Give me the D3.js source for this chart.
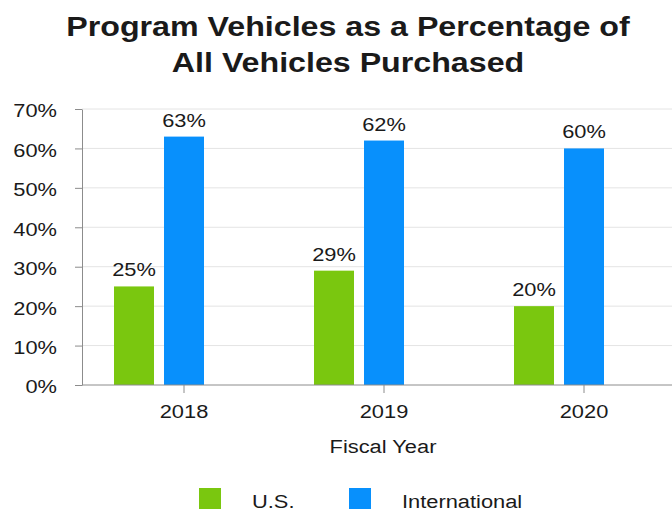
<!DOCTYPE html>
<html>
<head>
<meta charset="utf-8">
<script src="https://cdn.jsdelivr.net/npm/d3@7"></script>
<style>
  body { margin: 0; background: #fff; }
  text { font-family: "Liberation Sans", Arial, sans-serif; fill: #1a1a1a; }
</style>
</head>
<body>
<div id="chart"></div>
<script>
// data
let years = ['2018', '2019', '2020'];
let usValues = [25, 29, 20];
let intlValues = [63, 62, 60];
let seriesNames = ['U.S.', 'International'];
let seriesColors = ['#7ac70f', '#0890fc'];
let yTicks = [0, 10, 20, 30, 40, 50, 60, 70];

// settings
let W = 672, H = 512;
let SX = 1.15;            // the source text is a bit wider than plain Arial
let plotLeft = 82, plotTop = 109, plotBottom = 385;

let svg = d3.select('#chart').append('svg')
    .attr('width', W)
    .attr('height', H);

// text helper, stretched horizontally
function label(parent, x, y, txt, anchor, size, weight) {
    return parent.append('text')
        .attr('transform', `translate(${x},${y}) scale(${SX},1)`)
        .attr('text-anchor', anchor)
        .style('font-size', size + 'px')
        .style('font-weight', weight || 'normal')
        .text(txt);
}

function stretchAxisText(g) {
    g.selectAll('text').each(function() {
        let t = d3.select(this);
        let x = +t.attr('x') || 0;
        t.attr('x', x / SX).attr('transform', `scale(${SX},1)`);
    });
}

// scales
let x = d3.scaleBand().domain(years).range([84, 684]);
let xSub = d3.scaleBand().domain(['U.S.', 'International', 'none'])
    .range([-75, 75]).paddingInner(0.2).paddingOuter(0.1);
let y = d3.scaleLinear().domain([0, 70]).range([plotBottom, plotTop]);

// title
label(svg, 348, 36, 'Program Vehicles as a Percentage of', 'middle', 28, 'bold');
label(svg, 348, 72, 'All Vehicles Purchased', 'middle', 28, 'bold');

// gridlines
svg.append('g').selectAll('line')
    .data(yTicks.filter(d => d > 0))
    .enter().append('line')
    .attr('x1', plotLeft).attr('x2', W)
    .attr('y1', d => y(d)).attr('y2', d => y(d))
    .attr('stroke', '#e4e4e4')
    .attr('stroke-width', 1);

// y axis
let yAxis = svg.append('g')
    .attr('transform', `translate(${plotLeft},0)`)
    .call(d3.axisLeft(y).tickValues(yTicks).tickFormat(d => d + '%')
        .tickSize(7).tickPadding(18).tickSizeOuter(0));
yAxis.selectAll('text').style('font-size', '19px').attr('dy', '0.42em');
yAxis.selectAll('line, path').attr('stroke', '#8c8c8c');
stretchAxisText(yAxis);

// bars
let groups = svg.append('g').selectAll('g')
    .data(years)
    .enter().append('g')
    .attr('transform', d => `translate(${x(d) + x.bandwidth() / 2},0)`);

[usValues, intlValues].forEach(function(vals, s) {
    groups.append('rect')
        .attr('x', xSub(seriesNames[s]))
        .attr('width', xSub.bandwidth())
        .attr('y', (d, i) => y(vals[i]))
        .attr('height', (d, i) => plotBottom - y(vals[i]))
        .attr('fill', seriesColors[s]);

    groups.each(function(d, i) {
        label(d3.select(this), xSub(seriesNames[s]) + xSub.bandwidth() / 2,
            y(vals[i]) - 10, vals[i] + '%', 'middle', 19);
    });
});

// x axis
let xAxis = svg.append('g')
    .attr('transform', `translate(0,${plotBottom})`)
    .call(d3.axisBottom(x).tickSize(8).tickPadding(12).tickSizeOuter(0));
xAxis.select('.domain').remove();
xAxis.append('line')
    .attr('x1', plotLeft).attr('x2', W)
    .attr('stroke', '#8c8c8c');
xAxis.selectAll('text').style('font-size', '19px');
xAxis.selectAll('line').attr('stroke', '#8c8c8c');
stretchAxisText(xAxis);

// axis title
label(svg, 383, 453, 'Fiscal Year', 'middle', 19);

// legend
let legendX = [199, 349];
seriesNames.forEach(function(name, s) {
    svg.append('rect')
        .attr('x', legendX[s]).attr('y', 488)
        .attr('width', 22).attr('height', 21)
        .attr('fill', seriesColors[s]);
    label(svg, legendX[s] + 53, 508, name, 'start', 19);
});
</script>
</body>
</html>
